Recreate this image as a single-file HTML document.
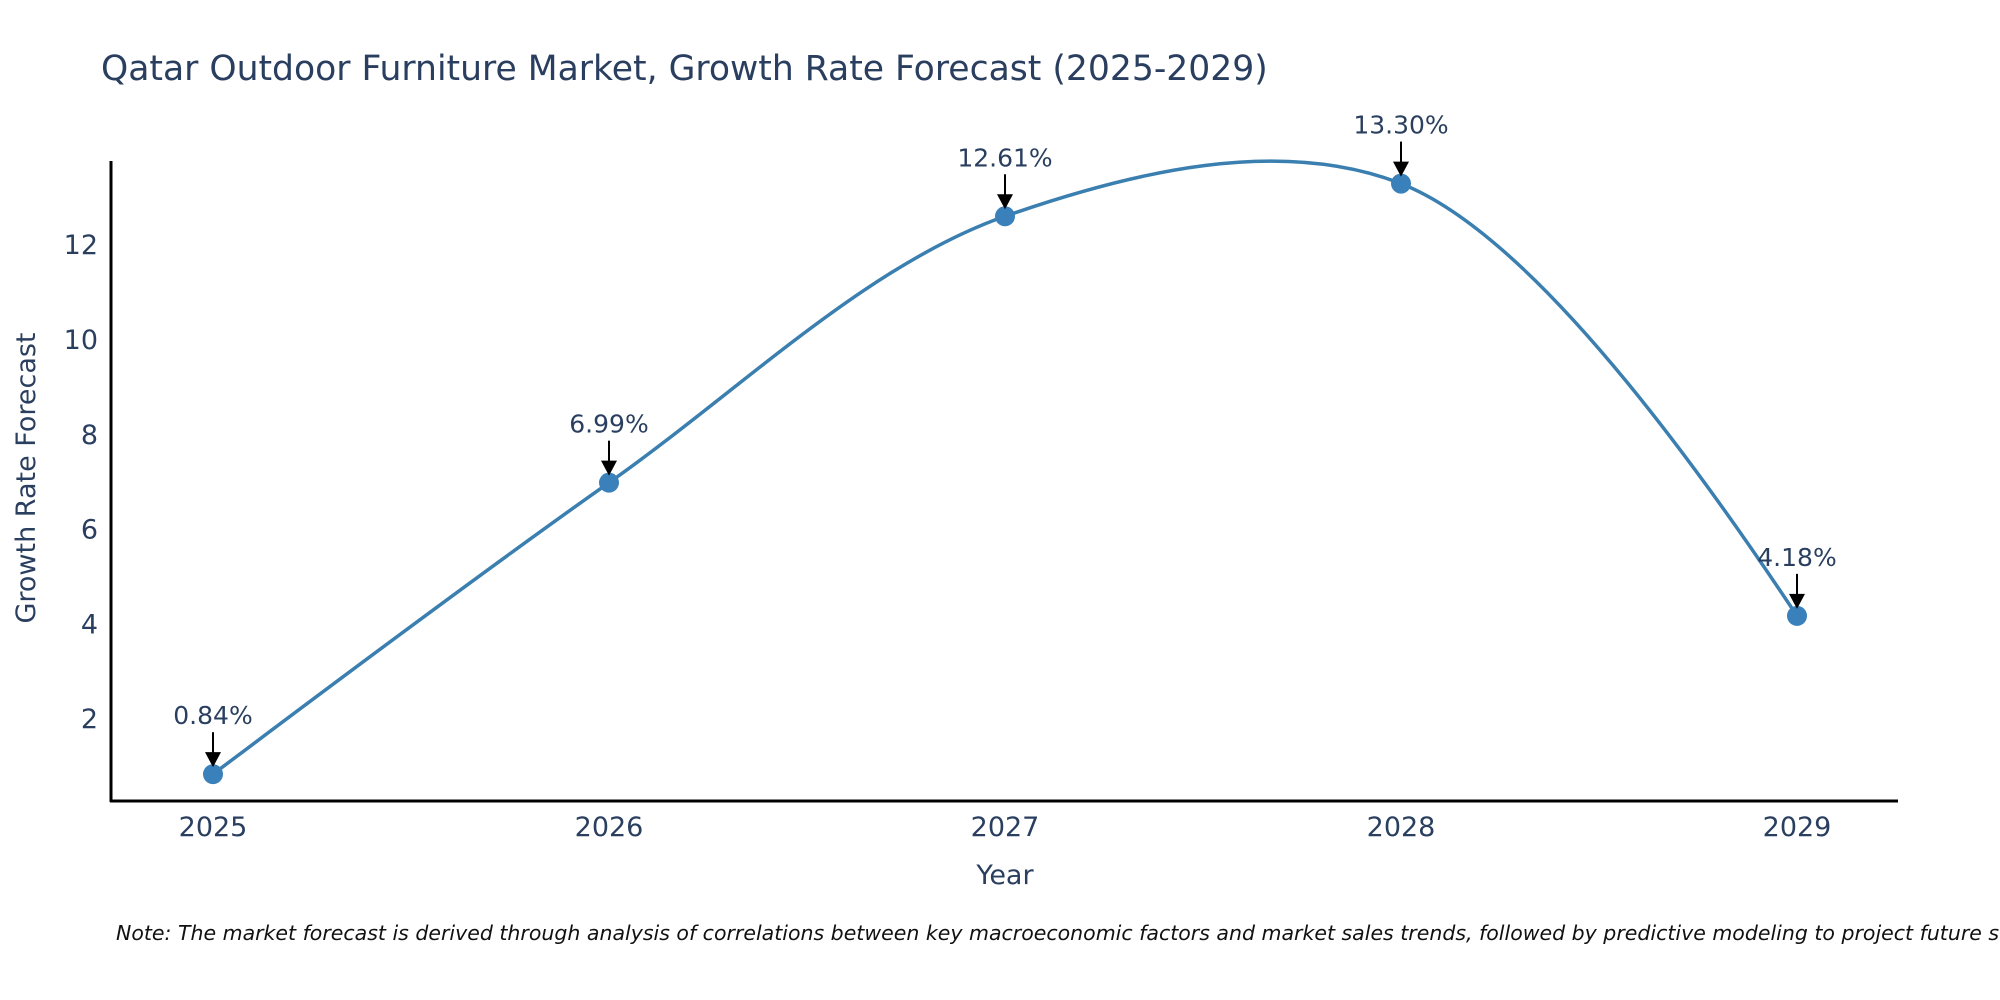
<!DOCTYPE html>
<html><head><meta charset="utf-8"><style>
body{margin:0;background:#fff;}
svg{display:block;font-family:"DejaVu Sans","Liberation Sans",sans-serif;}
</style></head><body>
<svg id="chart" width="2000" height="1000" viewBox="0 0 2000 1000">
<rect width="2000" height="1000" fill="#fff"/>
<text x="101" y="80" font-size="34.6" fill="#2a3f5f">Qatar Outdoor Furniture Market, Growth Rate Forecast (2025-2029)</text>
<g id="yticks"></g>
<g id="xticks"></g>
<line x1="111" y1="161" x2="111" y2="802" stroke="#000" stroke-width="3"/>
<line x1="110" y1="801" x2="1898" y2="801" stroke="#000" stroke-width="3"/>
<path id="line" fill="none" stroke="#3a7fb0" stroke-width="3.5"/>
<g id="points"></g>
<g id="annots"></g>
<text x="1005" y="884" font-size="27" fill="#2a3f5f" text-anchor="middle">Year</text>
<text transform="translate(35,478) rotate(-90)" font-size="27" fill="#2a3f5f" text-anchor="middle">Growth Rate Forecast</text>
<text x="116" y="940" font-size="20.5" font-style="italic" fill="#111">Note: The market forecast is derived through analysis of correlations between key macroeconomic factors and market sales trends, followed by predictive modeling to project future sales</text>
</svg>
<script>
const years = ["2025","2026","2027","2028","2029"];
const values = [0.84, 6.99, 12.61, 13.30, 4.18];
const labels = ["0.84%","6.99%","12.61%","13.30%","4.18%"];
const yTicks = [2,4,6,8,10,12];

const NS="http://www.w3.org/2000/svg";
function xs(i){return 213 + i*396;}
function ys(v){return 814 - v*47.4;}
function mk(tag,attrs,parent){const e=document.createElementNS(NS,tag);for(const k in attrs)e.setAttribute(k,attrs[k]);parent.appendChild(e);return e;}

const yg=document.getElementById('yticks');
yTicks.forEach(t=>{
  const e=mk('text',{x:98,y:ys(t)+9,'font-size':27,fill:'#2a3f5f','text-anchor':'end'},yg);
  
  
  e.textContent=t;
});
const xg=document.getElementById('xticks');
years.forEach((y,i)=>{
  const e=mk('text',{x:xs(i),y:836,'font-size':27,fill:'#2a3f5f','text-anchor':'middle'},xg);
  
  
  e.textContent=y;
});

const pts=values.map((v,i)=>[xs(i),ys(v)]);
function tangent(p,t,n,s){
  const d1x=p[0]-t[0],d1y=p[1]-t[1],d2x=n[0]-t[0],d2y=n[1]-t[1];
  const d1a=Math.pow(d1x*d1x+d1y*d1y,0.25),d2a=Math.pow(d2x*d2x+d2y*d2y,0.25);
  const nx=(d2a*d2a*d1x-d1a*d1a*d2x)*s,ny=(d2a*d2a*d1y-d1a*d1a*d2y)*s;
  const den1=3*d2a*(d1a+d2a),den2=3*d1a*(d1a+d2a);
  return [[t[0]+nx/den1,t[1]+ny/den1],[t[0]-nx/den2,t[1]-ny/den2]];
}
const tg=[];
for(let i=1;i<pts.length-1;i++)tg.push(tangent(pts[i-1],pts[i],pts[i+1],1));
let d='M'+pts[0]+'Q'+tg[0][0]+' '+pts[1];
for(let i=2;i<pts.length-1;i++)d+='C'+tg[i-2][1]+' '+tg[i-1][0]+' '+pts[i];
d+='Q'+tg[tg.length-1][1]+' '+pts[pts.length-1];
document.getElementById('line').setAttribute('d',d);

const pg=document.getElementById('points'),ag=document.getElementById('annots');
values.forEach((v,i)=>{
  const c=mk('circle',{cx:xs(i),cy:ys(v),r:10,fill:'#3a80ba'},pg);
  
  
  const x=xs(i),y=ys(v);
  const l=mk('line',{x1:x,y1:y-42,x2:x,y2:y-20,stroke:'#000','stroke-width':2},ag);
  
  
  const h=mk('polygon',{points:`${x-8},${y-22} ${x+8},${y-22} ${x},${y-7}`,fill:'#000'},ag);
  
  
  const t=mk('text',{x:x,y:y-50,'font-size':25,fill:'#2a3f5f','text-anchor':'middle'},ag);
  
  
  t.textContent=labels[i];
});
</script>
</body></html>
